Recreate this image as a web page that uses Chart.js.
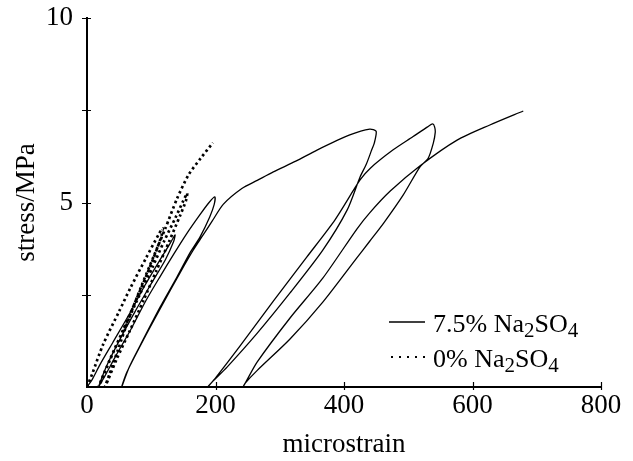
<!DOCTYPE html>
<html>
<head>
<meta charset="utf-8">
<script src="https://cdn.jsdelivr.net/npm/chart.js@4.4.1/dist/chart.umd.min.js"></script>
<style>
  html, body { margin: 0; padding: 0; background: #fff; }
</style>
</head>
<body>
<canvas id="grafico" width="633" height="461"></canvas>
<script>
// 7.5% Na2SO4 - ciclos de carga/descarga (microstrain, MPa)
const solidStrain = [
  0, 8, 20, 40, 65, 90, 112, 128, 137,
  135, 122, 100, 75, 50, 30, 18,
  28, 45, 68, 92, 114, 135, 155, 175, 190, 199,
  198, 191, 176, 160, 140, 114, 87, 66, 54,
  62, 90, 118, 145, 165, 180, 195, 212, 241, 265, 290, 325, 358, 409, 440, 450,
  447, 443, 435, 425, 405, 367, 316, 265, 218, 195, 188,
  201, 238, 290, 342, 386, 425, 441, 476, 507, 530, 538,
  541, 542, 539, 531, 518, 492, 462, 440, 420, 367, 316, 265, 246, 243,
  248, 265, 316, 367, 420, 440, 472, 518, 576, 627, 679
];
const solidStress = [
  0, 0.2, 0.6, 1.2, 1.95, 2.75, 3.4, 3.85, 4.12,
  3.95, 3.45, 2.8, 2.05, 1.25, 0.55, 0,
  0.3, 0.85, 1.55, 2.35, 3.0, 3.6, 4.15, 4.65, 5.0, 5.15,
  4.95, 4.61, 4.07, 3.63, 2.98, 2.17, 1.27, 0.55, 0,
  0.4, 1.35, 2.25, 3.1, 3.7, 4.1, 4.5, 4.95, 5.38, 5.6, 5.83, 6.12, 6.42, 6.83, 6.99, 6.93,
  6.6, 6.42, 6.05, 5.69, 4.8, 3.71, 2.55, 1.46, 0.54, 0.14, 0,
  0.27, 1.11, 2.33, 3.52, 4.53, 5.61, 5.93, 6.42, 6.78, 7.05, 7.13,
  7.05, 6.9, 6.61, 6.2, 5.96, 5.2, 4.45, 3.95, 3.5, 2.3, 1.3, 0.45, 0.1, 0,
  0.16, 0.68, 1.87, 2.95, 4.28, 4.72, 5.31, 5.99, 6.69, 7.1, 7.48
];

// 0% Na2SO4
const dottedStrain = [
  0, 8, 25, 50, 68, 92, 112, 118,
  116, 108, 92, 75, 55, 35, 22, 18,
  26, 42, 62, 82, 102, 120, 138, 150, 156,
  154, 145, 128, 108, 88, 66, 46, 33, 28,
  35, 48, 65, 85, 104, 122, 140, 158, 177, 196
];
const dottedStress = [
  0, 0.35, 1.15, 2.05, 2.7, 3.5, 4.15, 4.3,
  4.1, 3.7, 3.0, 2.3, 1.5, 0.7, 0.15, 0,
  0.35, 1.0, 1.75, 2.5, 3.25, 3.95, 4.6, 5.05, 5.25,
  5.05, 4.65, 3.95, 3.15, 2.35, 1.5, 0.75, 0.2, 0,
  0.35, 1.0, 1.85, 2.75, 3.55, 4.3, 5.1, 5.75, 6.2, 6.62
];

const xTicks = [0, 200, 400, 600, 800];
const yTicks = [2.5, 5, 7.5, 10];
const yTickLabels = [5, 10];

// etiquetas de la leyenda: [texto, esSubindice]
const legendSolid = [["7.5% Na", false], ["2", true], ["SO", false], ["4", true]];
const legendDotted = [["0% Na", false], ["2", true], ["SO", false], ["4", true]];

const serif = "'Liberation Serif', 'Times New Roman', serif";

function zip(xs, ys) {
  return xs.map((x, i) => ({ x: x, y: ys[i] }));
}

// marcas de los ejes (cruzan la linea del eje)
const tickMarks = {
  id: "tickMarks",
  afterDraw(chart) {
    const ctx = chart.ctx;
    const sx = chart.scales.x;
    const sy = chart.scales.y;
    ctx.save();
    ctx.strokeStyle = "#000";
    ctx.lineWidth = 1.2;
    ctx.beginPath();
    xTicks.slice(1).forEach(v => {
      const px = Math.round(sx.getPixelForValue(v)) + 0.5;
      ctx.moveTo(px, sy.bottom - 5);
      ctx.lineTo(px, sy.bottom + 3);
    });
    yTicks.forEach(v => {
      const py = Math.round(sy.getPixelForValue(v)) + 0.5;
      ctx.moveTo(sx.left - 5, py);
      ctx.lineTo(sx.left + 4, py);
    });
    ctx.stroke();
    ctx.restore();
  }
};

function drawChem(ctx, x, y, parts) {
  parts.forEach(p => {
    ctx.font = (p[1] ? "21px " : "26px ") + serif;
    ctx.fillText(p[0], x, p[1] ? y + 5 : y);
    x += ctx.measureText(p[0]).width;
  });
}

// leyenda con subindices
const chemLegend = {
  id: "chemLegend",
  afterDraw(chart) {
    const ctx = chart.ctx;
    const a = chart.chartArea;
    const x0 = a.left + 302;
    const y1 = a.top + 304;
    const y2 = y1 + 35;
    ctx.save();
    ctx.strokeStyle = "#000";
    ctx.fillStyle = "#000";
    ctx.lineWidth = 1.3;
    ctx.beginPath();
    ctx.moveTo(x0, y1);
    ctx.lineTo(x0 + 36, y1);
    ctx.stroke();
    ctx.lineWidth = 2;
    ctx.setLineDash([2, 6]);
    ctx.beginPath();
    ctx.moveTo(x0 + 2, y2);
    ctx.lineTo(x0 + 36, y2);
    ctx.stroke();
    ctx.setLineDash([]);
    ctx.textBaseline = "alphabetic";
    drawChem(ctx, x0 + 44, y1 + 10, legendSolid);
    drawChem(ctx, x0 + 44, y2 + 10, legendDotted);
    ctx.restore();
  }
};

const ctx = document.getElementById("grafico").getContext("2d");

new Chart(ctx, {
  type: "scatter",
  data: {
    datasets: [
      {
        label: "7.5% Na2SO4",
        data: zip(solidStrain, solidStress),
        showLine: true,
        borderColor: "#000",
        borderWidth: 1.3,
        pointRadius: 0,
        tension: 0.25
      },
      {
        label: "0% Na2SO4",
        data: zip(dottedStrain, dottedStress),
        showLine: true,
        borderColor: "#000",
        borderWidth: 2.7,
        borderDash: [2.5, 3],
        pointRadius: 0,
        tension: 0.25
      }
    ]
  },
  options: {
    responsive: false,
    animation: false,
    devicePixelRatio: 1,
    layout: { padding: { top: 18, right: 32, left: 0, bottom: 0 } },
    plugins: {
      legend: { display: false },
      tooltip: { enabled: false }
    },
    scales: {
      x: {
        type: "linear",
        min: 0,
        max: 800,
        grid: { display: false, drawTicks: false },
        border: { display: true, color: "#000", width: 2 },
        ticks: {
          stepSize: 200,
          color: "#000",
          padding: 3,
          maxRotation: 0,
          font: { family: serif, size: 27 }
        },
        title: {
          display: true,
          text: "microstrain",
          color: "#000",
          font: { family: serif, size: 27 },
          padding: { top: 0, bottom: 0 }
        },
        afterFit(s) { s.height = 74; }
      },
      y: {
        type: "linear",
        min: 0,
        max: 10,
        grid: { display: false, drawTicks: false },
        border: { display: true, color: "#000", width: 2 },
        ticks: {
          stepSize: 2.5,
          color: "#000",
          padding: 14,
          font: { family: serif, size: 27 },
          callback: v => yTickLabels.includes(v) ? String(v) : ""
        },
        title: {
          display: true,
          text: "stress/MPa",
          color: "#000",
          font: { family: serif, size: 27 },
          padding: { top: 11, bottom: 0 }
        },
        afterFit(s) {
          s.width = 87;
          s.paddingTop = 0;
        }
      }
    }
  },
  plugins: [tickMarks, chemLegend]
});
</script>
</body>
</html>
